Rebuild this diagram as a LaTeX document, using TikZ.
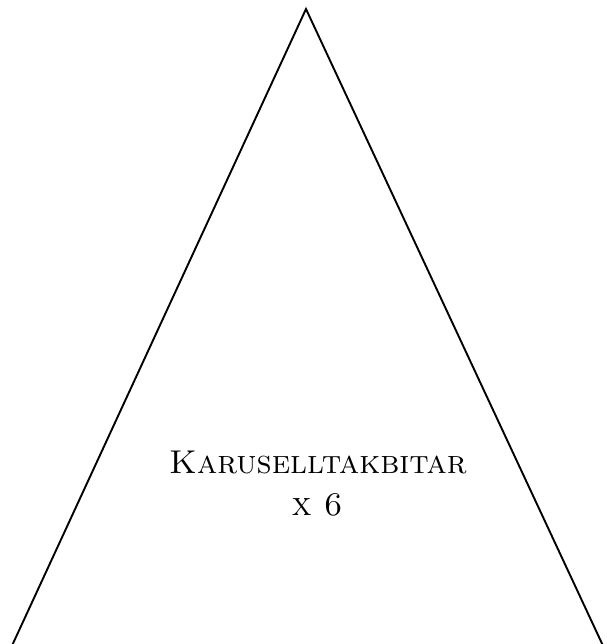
\documentclass[tikz,border=0pt]{standalone}
\begin{document}
\begin{tikzpicture}[x=1pt,y=-1pt,
  edge/.style={draw=black,line width=1.9pt},
  lbl/.style={font=\fontsize{33}{42}\selectfont\scshape,inner sep=0pt}]
\useasboundingbox (0,0) rectangle (606,644);
\begin{scope}
\clip (0,0) rectangle (606,644);
\coordinate (apex) at (306,9);
\coordinate (bl) at (10,650);
\coordinate (br) at (605,650);
\draw[edge,line join=miter] (bl) -- (apex) -- (br);
\end{scope}
\node[lbl,anchor=base] (t1) at (318,473) {Karuselltakbitar};
\node[lbl,anchor=base] (t2) at (317,515) {x 6};
\end{tikzpicture}
\end{document}
